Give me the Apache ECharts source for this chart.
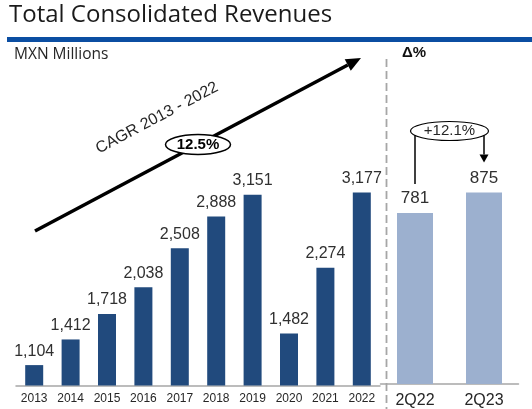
<!DOCTYPE html>
<html>
<head>
<meta charset="utf-8">
<script src="https://cdn.jsdelivr.net/npm/echarts@6/dist/echarts.min.js"></script>
<style>
  html, body { margin: 0; padding: 0; background: #fff; }
  #chart { width: 532px; height: 409px; }
</style>
</head>
<body>
<div id="chart"></div>
<script>
// ---- data ----
const years = ['2013', '2014', '2015', '2016', '2017', '2018', '2019', '2020', '2021', '2022'];
const annualRevenue = [1104, 1412, 1718, 2038, 2508, 2888, 3151, 1482, 2274, 3177];
const quarters = ['2Q22', '2Q23'];
const quarterRevenue = [781, 875];
const titleText = 'Total Consolidated Revenues';
const unitText = 'MXN Millions';
const deltaHeader = 'Δ%';
const cagrLabel = 'CAGR 2013 - 2022';
const cagrValue = '12.5%';
const quarterChange = '+12.1%';

const NUM_FONT = '"Liberation Sans", Arial, sans-serif';
const chart = echarts.init(document.getElementById('chart'), null, { renderer: 'canvas' });

const fmt = v => v.toLocaleString('en-US');

const option = {
  backgroundColor: '#ffffff',
  animation: false,
  grid: [
    { left: 16, width: 364, top: 60, bottom: 23.5 },
    { left: 380.5, width: 138, top: 60, bottom: 23.5 }
  ],
  xAxis: [
    {
      type: 'category', gridIndex: 0, data: years,
      axisLine: { lineStyle: { color: '#a6a6a6', width: 1.5 } },
      axisTick: { show: false },
      axisLabel: { color: '#262626', fontSize: 12, fontFamily: NUM_FONT, margin: 7, interval: 0 }
    },
    {
      type: 'category', gridIndex: 1, data: quarters,
      axisLine: { lineStyle: { color: '#a6a6a6', width: 1.5 } },
      axisTick: { show: false },
      axisLabel: { color: '#262626', fontSize: 16, fontFamily: NUM_FONT, margin: 9, interval: 0 }
    }
  ],
  yAxis: [
    { type: 'value', gridIndex: 0, min: 859, max: 4768, show: false },
    { type: 'value', gridIndex: 1, min: 0, max: 1480, show: false }
  ],
  series: [
    {
      type: 'bar', xAxisIndex: 0, yAxisIndex: 0, data: annualRevenue, barWidth: 18,
      itemStyle: { color: '#214a7d' },
      label: {
        show: true, position: 'top', distance: 6, color: '#303030',
        fontSize: 16, fontFamily: NUM_FONT, formatter: p => fmt(p.value)
      }
    },
    {
      type: 'bar', xAxisIndex: 1, yAxisIndex: 1, data: quarterRevenue, barWidth: 36,
      itemStyle: { color: '#9cb0cf' },
      label: {
        show: true, position: 'top', distance: 6, color: '#303030',
        fontSize: 17, fontFamily: NUM_FONT, formatter: p => fmt(p.value)
      }
    }
  ]
};
chart.setOption(option);

// ---- annotations ----
const p22 = chart.convertToPixel({ gridIndex: 1 }, [quarters[0], quarterRevenue[0]]);
const p23 = chart.convertToPixel({ gridIndex: 1 }, [quarters[1], quarterRevenue[1]]);
const ellY = 131;
const ellX = (p22[0] + p23[0]) / 2;

// CAGR arrow
const a0 = [35, 231], a1 = [361, 58];
const dx = a1[0] - a0[0], dy = a1[1] - a0[1];
const len = Math.hypot(dx, dy);
const ux = dx / len, uy = dy / len;
const nx = -uy, ny = ux;
const headL = 15, headW = 6.5;
const bc = [a1[0] - ux * headL, a1[1] - uy * headL];
const ang = Math.atan2(-dy, dx);

// the 12.5% ellipse sits on the arrow
const ex = 198;
const ey = a0[1] + (ex - a0[0]) * dy / dx;

const graphics = [
  { type: 'text', left: 9, top: 3, style: { text: titleText, fill: '#1a1a1a', font: '24px "Open Sans", sans-serif' } },
  { type: 'rect', shape: { x: 7, y: 37, width: 525, height: 5 }, style: { fill: '#0b4ea2' } },
  { type: 'text', left: 14, top: 47, style: { text: unitText, fill: '#262626', font: '15.5px "Open Sans", sans-serif' } },
  { type: 'text', x: 402, y: 53, style: { text: deltaHeader, fill: '#111', font: 'bold 15px "Liberation Sans", Arial, sans-serif', verticalAlign: 'middle' } },
  { type: 'line', shape: { x1: 386.5, y1: 59, x2: 386.5, y2: 409 }, style: { stroke: '#a6a6a6', lineWidth: 1.8, lineDash: [8, 4] } },
  // arrow
  { type: 'line', shape: { x1: a0[0], y1: a0[1], x2: bc[0], y2: bc[1] }, style: { stroke: '#000', lineWidth: 3.5 } },
  { type: 'polygon', shape: { points: [a1, [bc[0] + nx * headW, bc[1] + ny * headW], [bc[0] - nx * headW, bc[1] - ny * headW]] }, style: { fill: '#000' } },
  { type: 'text', x: 157, y: 118, rotation: ang, style: { text: cagrLabel, fill: '#262626', font: '16px "Liberation Sans", Arial, sans-serif', align: 'center', verticalAlign: 'middle' } },
  { type: 'ellipse', shape: { cx: ex, cy: ey, rx: 32.5, ry: 10 }, style: { fill: '#fff', stroke: '#000', lineWidth: 1.5 } },
  { type: 'text', x: ex, y: ey, style: { text: cagrValue, fill: '#000', font: 'bold 15px "Liberation Sans", Arial, sans-serif', align: 'center', verticalAlign: 'middle' } },
  // quarter change connector
  { type: 'line', shape: { x1: p22[0], y1: ellY, x2: p22[0], y2: p22[1] - 29 }, style: { stroke: '#000', lineWidth: 1.5 } },
  { type: 'line', shape: { x1: p23[0], y1: ellY, x2: p23[0], y2: p23[1] - 38 }, style: { stroke: '#000', lineWidth: 1.5 } },
  { type: 'polygon', shape: { points: [[p23[0] - 4.5, p23[1] - 38], [p23[0] + 4.5, p23[1] - 38], [p23[0], p23[1] - 30]] }, style: { fill: '#000' } },
  { type: 'ellipse', shape: { cx: ellX, cy: ellY, rx: 39, ry: 9.5 }, style: { fill: '#fff', stroke: '#000', lineWidth: 1.2 } },
  { type: 'text', x: ellX, y: ellY, style: { text: quarterChange, fill: '#262626', font: '15px "Liberation Sans", Arial, sans-serif', align: 'center', verticalAlign: 'middle' } }
];
chart.setOption({ graphic: { elements: graphics } });
</script>
</body>
</html>
